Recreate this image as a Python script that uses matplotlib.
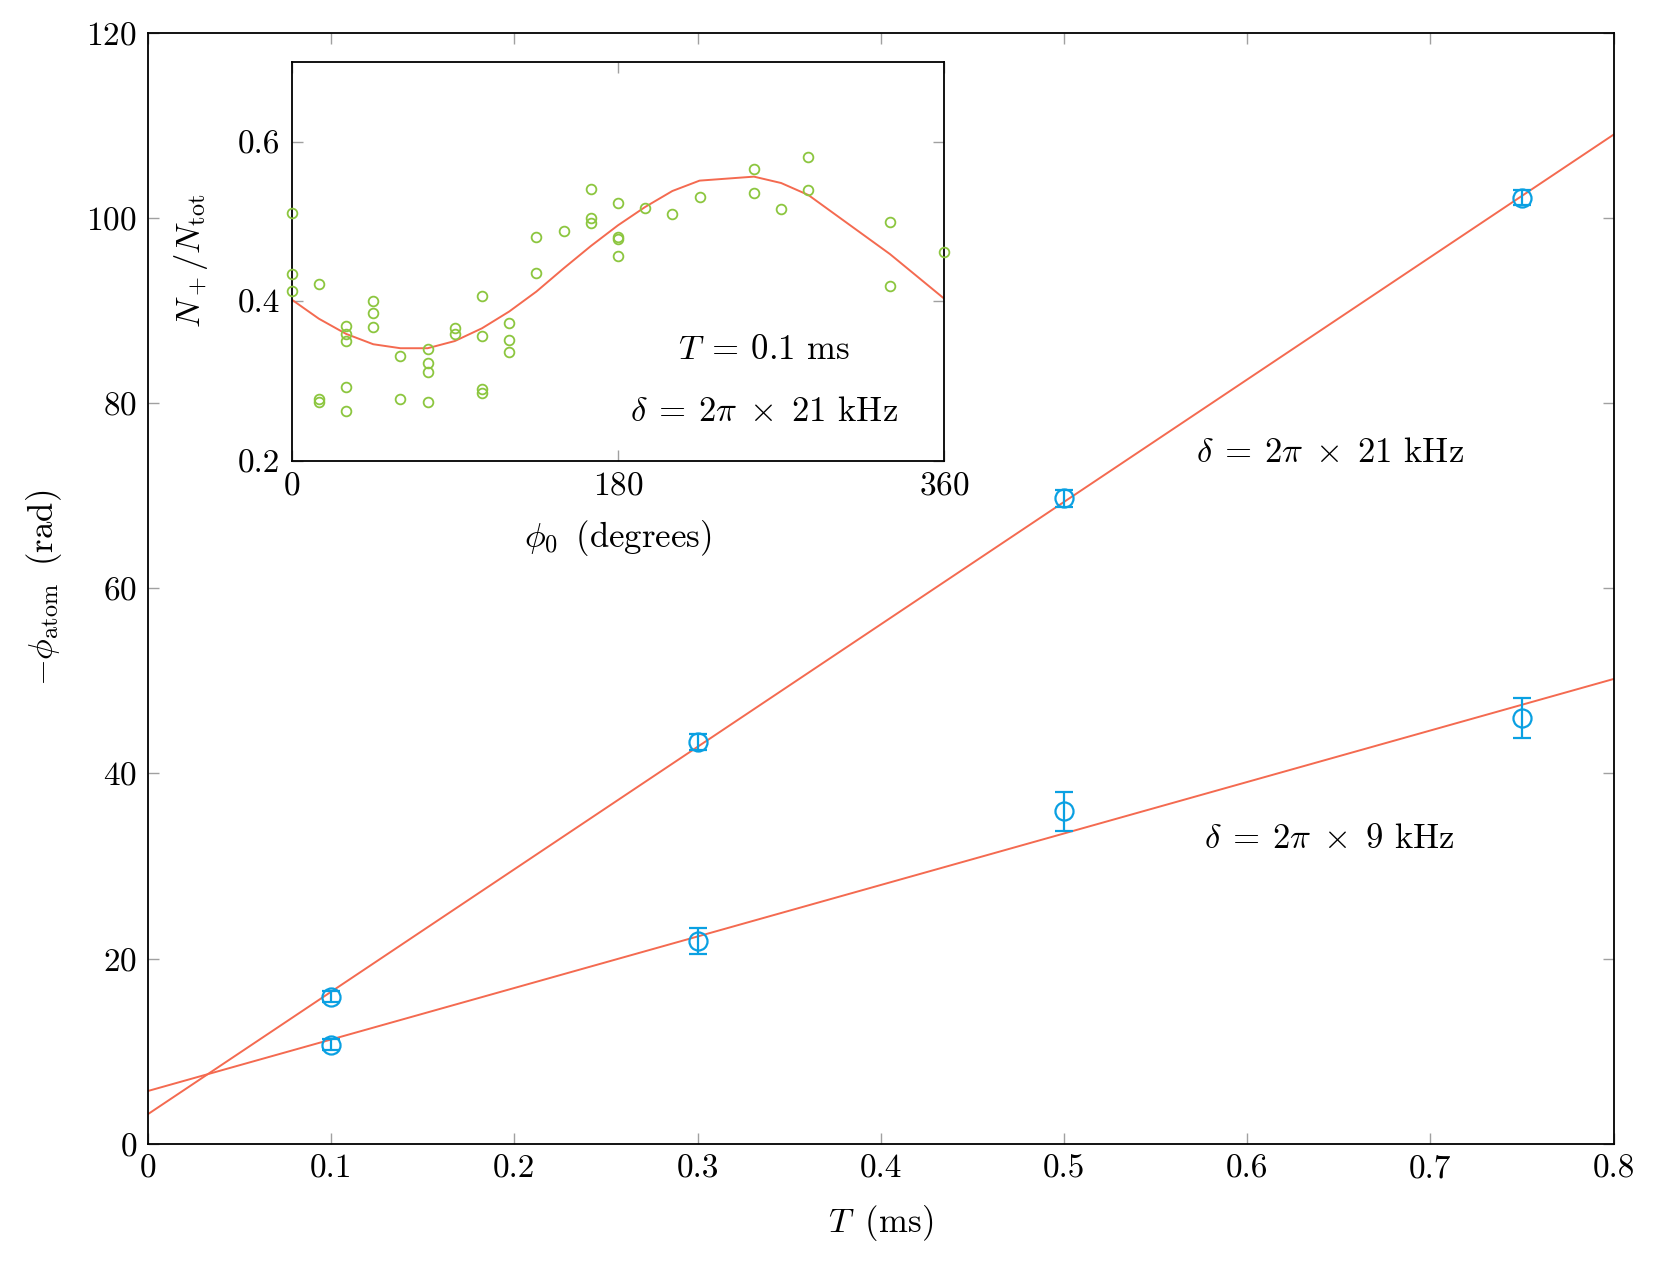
import matplotlib
matplotlib.use("Agg")
import matplotlib.pyplot as plt
import numpy as np

plt.rcParams['mathtext.fontset'] = 'cm'
plt.rcParams['font.family'] = 'serif'
plt.rcParams['font.serif'] = ['cmr10', 'DejaVu Serif']
plt.rcParams['axes.formatter.use_mathtext'] = True

# ---- main data ----
T_ms = [0.1, 0.3, 0.5, 0.75]
phi_21 = [15.9, 43.4, 69.7, 102.2]
err_21 = [0.6, 0.9, 0.9, 0.8]
phi_9 = [10.7, 21.9, 35.9, 46.0]
err_9 = [0.6, 1.4, 2.1, 2.2]

fit_T = [0.0, 0.8]
fit_21 = [3.2, 109.0]
fit_9 = [5.7, 50.2]

# ---- inset data ----
phi0_deg = [0, 0, 0, 15, 15, 15, 30, 30, 30, 30, 30, 45, 45, 45, 60, 60,
            75, 75, 75, 75, 90, 90, 105, 105, 105, 105, 120, 120, 120,
            135, 135, 150, 165, 165, 165, 180, 180, 180, 180, 195, 210, 225,
            255, 255, 270, 285, 285, 330, 330, 360]
n_frac = [0.510, 0.434, 0.413, 0.422, 0.278, 0.273, 0.369, 0.359, 0.350,
          0.292, 0.262, 0.400, 0.385, 0.367, 0.331, 0.278,
          0.340, 0.323, 0.311, 0.273, 0.366, 0.359, 0.406, 0.356, 0.290,
          0.285, 0.372, 0.351, 0.336, 0.480, 0.435, 0.488, 0.541, 0.504,
          0.498, 0.523, 0.480, 0.478, 0.456, 0.517, 0.509, 0.530,
          0.566, 0.536, 0.515, 0.581, 0.539, 0.499, 0.419, 0.461]

curve_deg = [0, 15, 30, 45, 60, 75, 90, 105, 120, 135, 150, 165, 180, 195,
             210, 225, 255, 270, 285, 330, 360]
curve_val = [0.402, 0.378, 0.359, 0.346, 0.341, 0.341, 0.350, 0.366, 0.387,
             0.412, 0.441, 0.469, 0.495, 0.518, 0.538, 0.551, 0.556, 0.548,
             0.533, 0.459, 0.403]

BLUE = '#0AA0E2'
RED = '#F46A50'
GREEN = '#8CC63F'
TICKC = '#A0A0A0'
FS = 25

fig = plt.figure(figsize=(16.59, 12.62), dpi=100)
ax = fig.add_axes([0.0892, 0.0937, 0.9726 - 0.0892, 0.974 - 0.0937])

ax.plot(fit_T, fit_21, color=RED, lw=1.4, zorder=2)
ax.plot(fit_T, fit_9, color=RED, lw=1.4, zorder=2)
for y, e in ((phi_21, err_21), (phi_9, err_9)):
    ax.errorbar(T_ms, y, yerr=e, fmt='o', ms=13, mfc='none', mec=BLUE,
                mew=1.6, ecolor=BLUE, elinewidth=1.6, capsize=6.5,
                capthick=1.6, zorder=3)

ax.set_xlim(0, 0.8)
ax.set_ylim(0, 120)
ax.set_xticks(np.arange(0, 0.81, 0.1))
ax.set_xticklabels(['0', '0.1', '0.2', '0.3', '0.4', '0.5', '0.6', '0.7', '0.8'])
ax.set_yticks(np.arange(0, 121, 20))
ax.tick_params(direction='in', length=8, width=1, color=TICKC,
               top=True, right=True, labelsize=24, pad=8)
for s in ax.spines.values():
    s.set_linewidth(1.3)
ax.set_xlabel(r'$T\,$ (ms)', fontsize=FS, labelpad=14)
ax.set_ylabel(r'$-\phi_{\mathrm{atom}}\,$ (rad)', fontsize=FS, labelpad=16)

ax.text(0.645, 74.6, r'$\delta\:=\:2\pi\;\times\;21$ kHz', fontsize=FS,
        ha='center', va='center')
ax.text(0.645, 32.9, r'$\delta\:=\:2\pi\;\times\;9$ kHz', fontsize=FS,
        ha='center', va='center')

# ---- inset ----
ins = fig.add_axes([0.1758, 0.6349, 0.5692 - 0.1758, 0.9511 - 0.6349])
ins.plot(curve_deg, curve_val, color=RED, lw=1.4, zorder=2)
ins.plot(phi0_deg, n_frac, 'o', ms=7, mfc='none', mec=GREEN, mew=1.3,
         zorder=3, clip_on=False)
ins.set_xlim(0, 360)
ins.set_ylim(0.2, 0.7)
ins.set_xticks([0, 180, 360])
ins.set_yticks([0.2, 0.4, 0.6])
ins.set_yticklabels(['0.2', '0.4', '0.6'])
ins.tick_params(direction='in', length=8, width=1, color=TICKC,
                top=True, right=True, labelsize=24, pad=8)
for s in ins.spines.values():
    s.set_linewidth(1.3)
ins.set_xlabel(r'$\phi_0\,$ (degrees)', fontsize=FS, labelpad=12)
ins.set_ylabel(r'$N_+/N_{\mathrm{tot}}$', fontsize=FS, labelpad=20)
ins.text(260.5, 0.3385, r'$T\:=\:0.1$ ms', fontsize=FS,
         ha='center', va='center')
ins.text(260.5, 0.261, r'$\delta\:=\:2\pi\;\times\;21$ kHz', fontsize=FS,
         ha='center', va='center')

fig.savefig('out.png', dpi=100)
